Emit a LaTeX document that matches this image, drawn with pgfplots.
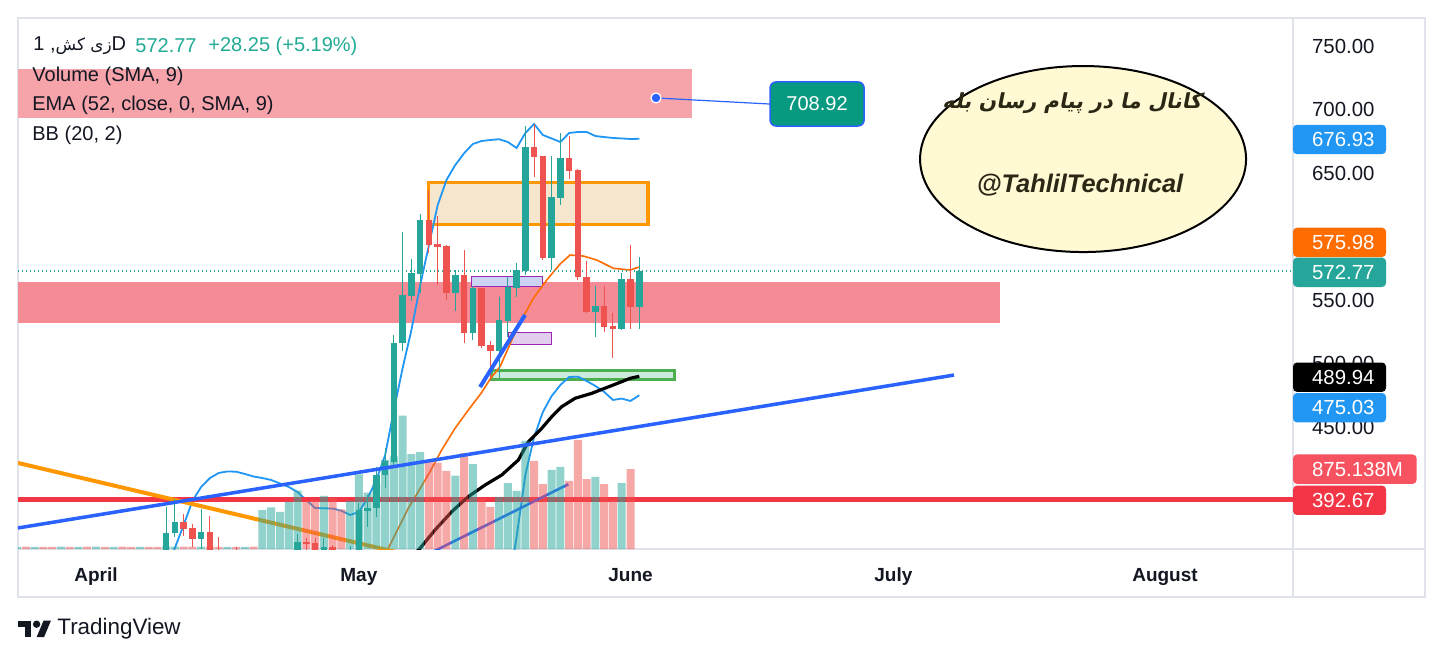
\documentclass[border=0pt]{standalone}
\usepackage{fontspec}
\setmainfont{Liberation Sans}
\newfontfamily\farsi[Script=Arabic]{DejaVu Sans}
\newfontfamily\farsibi[Script=Arabic,FakeSlant=0.2]{DejaVu Sans Bold}
\usepackage{pgfplots}
\usepackage{pgfplotstable}
\pgfplotsset{compat=1.18}
\usepgfplotslibrary{fillbetween}
\TeXXeTstate=1

\definecolor{tvtext}{HTML}{131722}
\definecolor{gridc}{HTML}{EDEFF3}
\definecolor{framec}{HTML}{E0E3EB}
\definecolor{cgreen}{HTML}{26A69A}
\definecolor{cred}{HTML}{EF5350}
\definecolor{bbblue}{HTML}{2196F3}
\definecolor{basisor}{HTML}{FF6D00}
\definecolor{redline}{HTML}{F23645}
\definecolor{tblue}{HTML}{2962FF}
\definecolor{orline}{HTML}{FF9800}
\definecolor{pinkA}{HTML}{F7A3AA}
\definecolor{pinkB}{HTML}{F58C95}
\definecolor{orF}{HTML}{F6E6CE}
\definecolor{purB}{HTML}{9C27B0}
\definecolor{purFa}{HTML}{CDD3F2}
\definecolor{purFb}{HTML}{E2CDEE}
\definecolor{grB}{HTML}{4CAF50}
\definecolor{grF}{HTML}{CCEBDD}
\definecolor{callf}{HTML}{089981}
\definecolor{ellf}{HTML}{FFF9D4}
\definecolor{ellt}{HTML}{2A2714}
\definecolor{hdrteal}{HTML}{22AB94}
\definecolor{volbox}{HTML}{F7525F}

% candles: day (0 = 1 April), open, high, low, close
\pgfplotstableread{
d o h l c
8 350 387.2 345 366.3
9 366.3 393.1 363.6 375.0
12 361.6 385.7 354.0 367.3
23 352 365.7 348 359.7
26 352 362.4 349 355.7
29 348 356.3 345 353
30 352 389.9 350 384.6
31 384.1 396.5 371.5 386.5
32 385.9 418.7 379.4 412.2
33 412.2 433.2 401.7 423.5
34 422.7 522.4 419.3 516.4
35 515.9 603.8 510 553.9
36 553.4 582.0 549 571.5
37 570.5 617.7 555.3 613.0
41 555.8 573.6 541.6 569.7
43 523.8 561 518.5 559.2
46 510.0 552.6 488.4 534.3
47 533.5 568.4 521.1 560.5
48 559.7 579.0 552.0 573.6
49 573.1 687.0 569.7 670.7
52 583.3 663.4 573.6 630.9
53 630.6 681.7 624.8 662.1
57 540.8 561.0 521.1 545.3
60 527.0 571.5 526 566.3
62 544.5 583.6 527.0 572.77
}\tgreen
\pgfplotstableread{
d o h l c
10 375.0 381.3 364.2 370.0
11 370.5 373.6 355.8 361.6
13 367.3 379.9 348 352
14 352 363.6 342 346
16 350 355.7 340 343
24 359.4 362.4 352 357.9
25 358.9 362.4 349 352
27 355.7 357 349 352
28 350 353 345 348
38 613.0 636.6 587.2 593.3
39 594.1 616.1 561.8 592.0
40 592.5 593 550.0 555.8
42 569.7 589.4 515.9 523.8
44 559.2 559.5 512.0 514.0
45 514.6 518.0 487.0 510.0
50 670.7 688.6 647.1 662.8
51 663.4 663.4 581.5 583.3
54 662.1 679.1 645.0 651.8
55 652.4 653 566 567.9
56 567.9 580.7 540 540.8
58 545.3 561.0 525.0 529.0
59 529.5 540.0 504.1 527.0
61 566.3 593.3 527 544.52
}\tred

% volume (M)
\pgfplotstableread{
d v
-9 24
-7 22
-4 26
-2 23
0 25
2 22
5 24
8 28
9 26
12 25
15 22
17 24
19 421
20 451
21 400
22 508
23 630
26 573
29 519
30 807
31 608
32 700
33 962
34 1000
35 1440
36 1026
37 1048
41 792
43 918
46 562
47 713
48 627
49 1167
52 854
53 886
57 778
60 713
}\tvolg
\pgfplotstableread{
d v
-8 25
-6 23
-5 22
-3 24
-1 26
1 23
3 25
4 22
6 24
7 23
10 27
11 25
13 26
14 24
16 23
18 25
24 511
25 529
27 559
28 429
38 943
39 932
40 843
42 1037
44 548
45 454
50 951
51 702
54 735
55 1178
56 756
58 702
59 548
61 864
}\tvolr

% Bollinger bands
\pgfplotstableread{
d p
8 335
9 354.7
10 372.8
11 391.7
12 402.8
13 409.8
14 413.8
15 415.0
16 414.8
17 413.0
18 411.0
19 409.8
20 408.3
21 405.5
22 402.8
23 398.8
24 392.5
25 386.2
26 386.0
27 385.8
28 384.1
29 380.7
30 383.1
31 394.1
32 408.3
33 427.9
34 463.4
35 496.5
36 526.4
37 561.8
38 593.3
39 624.8
40 644.5
41 656.3
42 665.5
43 672.8
44 675.2
45 676.0
46 676.6
47 674.4
48 669.7
49 681.5
50 688.6
51 679.9
52 677.2
53 674.4
54 681.5
55 682.3
56 682.3
57 679.1
58 678.3
59 677.6
60 677.2
61 676.8
62 676.93
}\tbbu
\pgfplotstableread{
d p
8 290
12 300
16 305
20 300
24 300
28 310
30 300
32 290
34 260
36 230
38 200
40 200
42 220
44 250
46 290
47 320
48 363.4
49 412.2
50 442.1
51 461.8
52 474.4
53 483.1
54 489.4
55 489.6
56 486.2
57 482.3
58 477.6
59 471.3
60 472.4
61 470.5
62 475.03
}\tbbl
\pgfplotstableread{
d p
32 345
33.36 354.5
34.5 370.2
35.64 386.0
36.78 399.1
38.12 414.8
39.45 431.9
40.97 448.9
42.49 463.4
44 477
45 488
46.11 497.5
47.63 521.1
48.77 536.9
49.91 551.3
51.44 565.7
52.96 578.3
54.1 585.4
55.62 584.6
57.14 581.5
59.04 575.0
60.95 573.6
62 575.98
}\tbasis
\pgfplotstableread{
d p
35 340
36.98 354.5
38.69 368.9
40.6 383.3
42.49 395.2
44.4 404.3
46.3 412.2
48.2 424.0
49.34 438.4
50.87 449.0
52.01 458.1
53.15 466.0
54.67 472.6
56.57 476.5
59.04 483.1
60.95 488.3
62 489.94
}\tema

\pgfplotsset{
  tvbase/.style={at={(9pt,55pt)}, anchor=south west, scale only axis,
    width=637.5pt, height=265.5pt, xmin=-8.902, xmax=136.61},
  tvprice/.style={tvbase, ymin=353.94, ymax=772.05},
}
\newcommand{\pbox}[4]{%
  \fill[#1, rounded corners=2pt] (axis cs:136.61,#2) ++(0pt,-7.35pt) rectangle ++(#4,14.7pt);
  \node[anchor=west, inner sep=0pt, text=white, font=\fontsize{10.2}{12}\selectfont, xshift=9.35pt] at (axis cs:136.61,#2) {#3};}

\begin{document}
\begin{tikzpicture}[x=0.5pt,y=0.5pt]
\fill[white] (0,0) rectangle (1444,659);
\begin{pgfinterruptboundingbox}
% frame
\draw[framec, line width=0.75pt] (18,62) rectangle (1425,641);
\draw[framec, line width=0.75pt] (1293,62) -- (1293,641);
\draw[framec, line width=0.75pt] (18,110) -- (1425,110);

% ---------- background layer: grid, zones, indicators
\begin{axis}[tvprice,
  axis line style={draw=none}, major tick length=0pt,
  xtick={0,30,61,91,122}, xticklabels={April,May,June,July,August},
  ytick={450,500,550,650,700,750},
  extra y ticks={600}, extra y tick labels={},
  extra y tick style={grid=major},
  yticklabel pos=right,
  yticklabel={\pgfmathprintnumber[fixed,fixed zerofill,precision=2,assume math mode=true]{\tick}},
  yticklabel style={anchor=west, inner sep=0pt, xshift=9.35pt, font=\fontsize{10.2}{12}\selectfont, text=tvtext},
  xticklabel style={anchor=base, inner sep=0pt, yshift=-16.25pt, font=\fontsize{9.5}{11}\selectfont\bfseries, text=tvtext},
  grid=major, major grid style={draw=gridc, line width=0.5pt},
]
\fill[pinkA] (axis cs:-8.902,693.3) rectangle (axis cs:68.02,731.9);
\fill[pinkB] (axis cs:-8.902,531.9) rectangle (axis cs:103.17,564.2);
\draw[orline, fill=orF, line width=1.6pt] (axis cs:37.95,609.6) rectangle (axis cs:63.0,642.3);
\draw[purB, fill=purFa, line width=0.5pt] (axis cs:42.91,561.0) rectangle (axis cs:50.90,568.9);
\draw[purB, fill=purFb, line width=0.5pt] (axis cs:47.02,514.6) rectangle (axis cs:51.93,524.8);
\draw[grB, fill=grF, line width=1.25pt] (axis cs:45.15,487.5) rectangle (axis cs:66.0,494.4);

\addplot[draw=none, name path=bbu, forget plot] table {\tbbu};
\addplot[draw=none, name path=bbl, forget plot] table {\tbbl};
\addplot[fill=bbblue, fill opacity=0.05, draw=none] fill between[of=bbu and bbl];
\addplot[bbblue, line width=0.9pt] table {\tbbu};
\addplot[bbblue, line width=0.9pt] table {\tbbl};
\addplot[basisor, line width=0.8pt] table {\tbasis};
\addplot[redline, line width=2.5pt] coordinates {(-8.902,392.67) (136.61,392.67)};
\addplot[black, line width=1.6pt] table {\tema};
\addplot[orline, line width=2pt] coordinates {(-8.902,421.7) (35,350.3)};
\addplot[tblue, line width=1.3pt] coordinates {(38.5,351.9) (53.9,404.9)};
\addplot[cgreen, line width=0.6pt, dash pattern=on 0.6pt off 1.4pt] coordinates {(-8.902,572.77) (136.61,572.77)};
\end{axis}

% ---------- volume
\begin{axis}[tvbase, hide axis, ymin=0, ymax=5737]
\addplot[ybar, bar width=4pt, bar shift=0pt, fill=cgreen, fill opacity=0.5, draw=none] table {\tvolg};
\addplot[ybar, bar width=4pt, bar shift=0pt, fill=cred, fill opacity=0.5, draw=none] table {\tvolr};
\end{axis}

% ---------- candles and trend lines
\begin{axis}[tvprice, hide axis]
\addplot[draw=none, mark=none, error bars/.cd, y dir=both, y explicit, error mark=none,
  error bar style={draw=cgreen, line width=0.5pt}]
  table[x=d, y expr={(\thisrow{h}+\thisrow{l})/2}, y error expr={(\thisrow{h}-\thisrow{l})/2}] {\tgreen};
\addplot[draw=none, mark=none, error bars/.cd, y dir=both, y explicit, error mark=none,
  error bar style={draw=cgreen, line width=3.25pt}]
  table[x=d, y expr={(\thisrow{o}+\thisrow{c})/2}, y error expr={max(abs(\thisrow{c}-\thisrow{o})/2,0.4)}] {\tgreen};
\addplot[draw=none, mark=none, error bars/.cd, y dir=both, y explicit, error mark=none,
  error bar style={draw=cred, line width=0.5pt}]
  table[x=d, y expr={(\thisrow{h}+\thisrow{l})/2}, y error expr={(\thisrow{h}-\thisrow{l})/2}] {\tred};
\addplot[draw=none, mark=none, error bars/.cd, y dir=both, y explicit, error mark=none,
  error bar style={draw=cred, line width=3.25pt}]
  table[x=d, y expr={(\thisrow{o}+\thisrow{c})/2}, y error expr={max(abs(\thisrow{c}-\thisrow{o})/2,0.4)}] {\tred};
\addplot[tblue, line width=1.75pt] coordinates {(-8.902,370.5) (97.92,490.9)};
\addplot[tblue, line width=2pt] coordinates {(43.83,481.5) (48.96,538.2)};
\end{axis}

% ---------- annotations
\begin{axis}[tvprice, hide axis, clip=false]
\addplot[draw=none, forget plot] coordinates {(0,500)};
\draw[tblue, line width=0.6pt] (axis cs:63.91,709.1) -- (axis cs:76.93,704.3);
\filldraw[fill=tblue, draw=white, line width=0.6pt] (axis cs:63.91,709.1) circle[radius=2.5pt];
\draw[fill=callf, draw=tblue, line width=0.75pt, rounded corners=3pt] (axis cs:76.93,687.0) rectangle (axis cs:87.66,721.7);
\node[text=white, font=\fontsize{10}{12}\selectfont] at (axis cs:82.29,704.3) {708.92};
\draw[fill=ellf, draw=black, line width=1pt] (axis cs:112.65,661.0) ellipse[x radius=81.5pt, y radius=46.5pt];
\node[text=ellt, font=\fontsize{10.4}{12}\selectfont] at (axis cs:111.4,705.0) {\farsibi\beginR کانال ما در پیام رسان بله\endR};
\node[text=ellt, font=\fontsize{12.7}{14}\selectfont\bfseries\itshape] at (axis cs:112.3,640.6) {@TahlilTechnical};
\pbox{bbblue}{676.4}{676.93}{46.5pt}
\pbox{basisor}{595.4}{575.98}{46.5pt}
\pbox{cgreen}{571.8}{572.77}{46.5pt}
\pbox{black}{489.2}{489.94}{46.5pt}
\pbox{bbblue}{465.2}{475.03}{46.5pt}
\pbox{volbox}{416.8}{875.138M}{61.8pt}
\pbox{redline}{392.3}{392.67}{46.5pt}
\end{axis}

% ---------- legend texts
\node[anchor=west, inner sep=0pt, text=tvtext, font=\fontsize{10}{12}\selectfont] at (33,613) {1 ,{\fontsize{8.4}{12}\selectfont\farsi\beginR زی کش\endR}D};
\node[anchor=west, inner sep=0pt, text=hdrteal, font=\fontsize{10}{12}\selectfont] at (135,613) {572.77};
\node[anchor=west, inner sep=0pt, text=hdrteal, font=\fontsize{10}{12}\selectfont] at (208,613) {+28.25 (+5.19\%)};
\node[anchor=west, inner sep=0pt, text=tvtext, font=\fontsize{10}{12}\selectfont] at (32,583) {Volume (SMA, 9)};
\node[anchor=west, inner sep=0pt, text=tvtext, font=\fontsize{10}{12}\selectfont] at (32,554) {EMA (52, close, 0, SMA, 9)};
\node[anchor=west, inner sep=0pt, text=tvtext, font=\fontsize{10}{12}\selectfont] at (32,524) {BB (20, 2)};

% ---------- TradingView logo
\fill[tvtext] (18,38.5) rectangle (31,32);
\fill[tvtext] (24.5,38.5) rectangle (31,21.8);
\fill[tvtext] (36.6,34.8) circle (3.7);
\fill[tvtext] (43.6,38.5) -- (51,38.5) -- (44,21.8) -- (36.6,21.8) -- cycle;
\node[anchor=west, inner sep=0pt, text=tvtext, font=\fontsize{11.2}{13}\selectfont] at (57,30) {TradingView};
\end{pgfinterruptboundingbox}
\end{tikzpicture}
\end{document}
